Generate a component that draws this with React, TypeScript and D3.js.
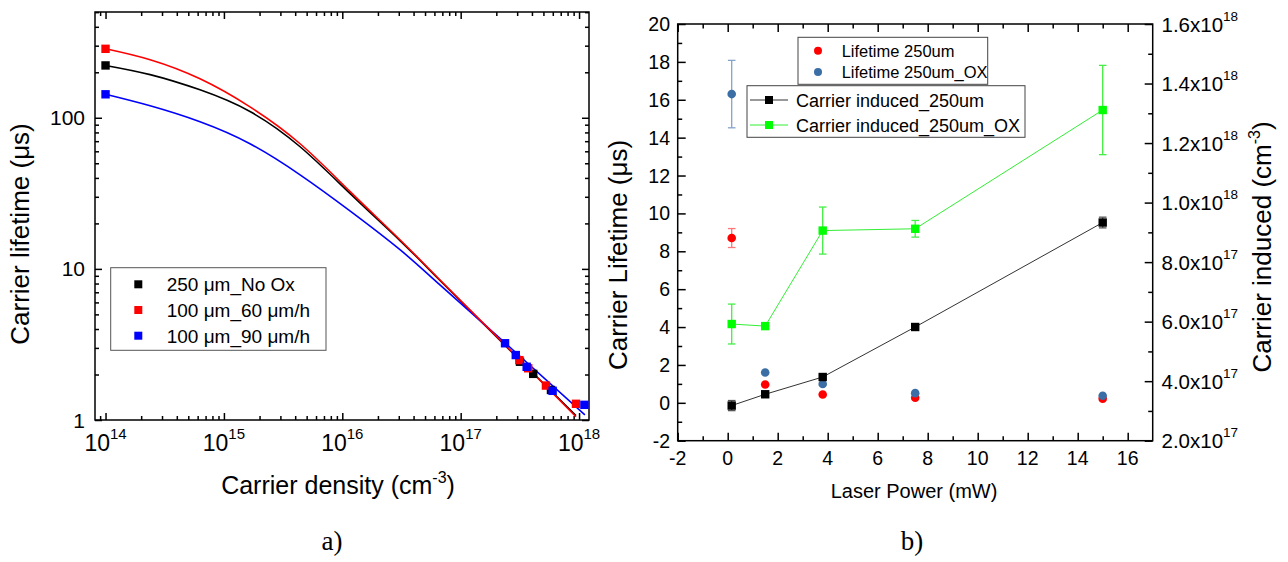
import React, { useRef, useEffect } from 'react';
import * as d3 from 'd3';

// ---------- panel a) : carrier lifetime vs carrier density ----------
// fitted curves (density in cm^-3, lifetime in µs)
const fitDensity = [1e14, 2.38e14, 6.28e14, 1.66e15, 4.4e15, 1.16e16, 3.07e16, 6.43e16, 2.15e17, 9.42e17];
const fitNoOx = [222, 193, 153, 110, 64.3, 31.6, 15.4, 8.65, 3.36, 1.07];
const fit60 = [286, 242, 181, 118, 67.3, 32.6, 15.6, 8.71, 3.39, 1.05];
const fitDensity90 = [1e14, 2.38e14, 6.28e14, 1.66e15, 4.4e15, 1.16e16, 3.07e16, 6.68e16, 2.37e17, 1.12e18];
const fit90 = [143, 120, 94.1, 67.3, 41.9, 24.2, 13.4, 7.83, 3.24, 1.08];

// measured points
const noOxDensity = [1e14, 3.17e17, 4.1e17, 5.79e17];
const noOxLifetime = [222, 2.43, 2.02, 1.58];
const um60Density = [1e14, 3.13e17, 3.72e17, 5.25e17, 9.42e17];
const um60Lifetime = [286, 2.49, 2.2, 1.69, 1.28];
const um90Density = [1e14, 2.37e17, 2.92e17, 3.61e17, 5.98e17, 1.11e18];
const um90Lifetime = [143, 3.22, 2.69, 2.25, 1.56, 1.26];

const legendA = ['250 μm_No Ox', '100 μm_60 μm/h', '100 μm_90 μm/h'];

// ---------- panel b) : lifetime / carriers vs laser power ----------
const laserPower = [0.16, 1.5, 3.8, 7.5, 15];
const lifetime250 = [8.7, 0.97, 0.44, 0.27, 0.22];
const lifetime250Err = [0.5, 0, 0, 0, 0];
const lifetimeOx = [16.3, 1.6, 0.99, 0.51, 0.37];
const lifetimeOxErr = [1.78, 0, 0, 0, 0];
const carrier250 = [3.18e17, 3.56e17, 4.14e17, 5.82e17, 9.33e17];
const carrier250Err = [0.17e17, 0.05e17, 0.06e17, 0.04e17, 0.18e17];
const carrierOx = [5.92e17, 5.85e17, 9.06e17, 9.12e17, 1.311e18];
const carrierOxErr = [0.67e17, 0.08e17, 0.79e17, 0.28e17, 1.5e17];

const xTicksB = [-2, 0, 2, 4, 6, 8, 10, 12, 14, 16];
const yTicksB = [-2, 0, 2, 4, 6, 8, 10, 12, 14, 16, 18, 20];
const y2TicksB = [2e17, 4e17, 6e17, 8e17, 1e18, 1.2e18, 1.4e18, 1.6e18];

const font = 'Liberation Sans, Arial, sans-serif';

function App() {
  const svgRef = useRef<SVGSVGElement>(null);

  useEffect(() => {
    const svg = d3.select(svgRef.current);
    svg.selectAll('*').remove();

    // draws inward ticks with d3 axes, hides domain + labels
    const tickAxis = (g: any, axis: any, tr: string) => {
      const a = g.append('g').attr('transform', tr).call(axis);
      a.select('.domain').remove();
      a.selectAll('text').remove();
      a.selectAll('line').attr('stroke', '#000').attr('stroke-width', 1.5);
    };

    // ================= panel a =================
    const A = { l: 95, r: 589, t: 12, b: 420 };
    const xL = d3.scaleLog().domain([10 ** 13.911, 10 ** 18.084]).range([A.l, A.r]);
    const yL = d3.scaleLog().domain([1, 10 ** 2.7]).range([A.b, A.t]);
    const ga = svg.append('g');

    const isDecade = (v: number) => Math.abs(Math.log10(v) - Math.round(Math.log10(v))) < 1e-6;
    const xAll = xL.ticks();
    const yAll = yL.ticks();
    const xMaj = xAll.filter(isDecade), xMin = xAll.filter(v => !isDecade(v));
    const yMaj = yAll.filter(isDecade), yMin = yAll.filter(v => !isDecade(v));

    tickAxis(ga, d3.axisBottom(xL).tickValues(xMaj).tickSize(-7), `translate(0,${A.b})`);
    tickAxis(ga, d3.axisBottom(xL).tickValues(xMin).tickSize(-4), `translate(0,${A.b})`);
    tickAxis(ga, d3.axisTop(xL).tickValues(xMaj).tickSize(-7), `translate(0,${A.t})`);
    tickAxis(ga, d3.axisTop(xL).tickValues(xMin).tickSize(-4), `translate(0,${A.t})`);
    tickAxis(ga, d3.axisLeft(yL).tickValues(yMaj).tickSize(-7), `translate(${A.l},0)`);
    tickAxis(ga, d3.axisLeft(yL).tickValues(yMin).tickSize(-4), `translate(${A.l},0)`);
    tickAxis(ga, d3.axisRight(yL).tickValues(yMaj).tickSize(-7), `translate(${A.r},0)`);
    tickAxis(ga, d3.axisRight(yL).tickValues(yMin).tickSize(-4), `translate(${A.r},0)`);

    ga.append('rect').attr('x', A.l).attr('y', A.t).attr('width', A.r - A.l).attr('height', A.b - A.t)
      .attr('fill', 'none').attr('stroke', '#000').attr('stroke-width', 1.5);

    // tick labels
    xMaj.forEach(v => {
      const t = ga.append('text').attr('x', xL(v)).attr('y', 451).attr('text-anchor', 'middle')
        .attr('font-family', font).attr('font-size', 23);
      t.append('tspan').text('10');
      t.append('tspan').attr('font-size', 15).attr('dy', -12).text(String(Math.round(Math.log10(v))));
    });
    yMaj.forEach(v => {
      ga.append('text').attr('x', 85).attr('y', yL(v) + 7.5).attr('text-anchor', 'end')
        .attr('font-family', font).attr('font-size', 21).text(String(v));
    });

    // curves (smooth spline through the read points)
    const lineA = (xs: number[], ys: number[], color: string) => {
      const line = d3.line<number>().x((d, i) => xL(xs[i])).y(d => yL(d)).curve(d3.curveNatural);
      ga.append('path').attr('d', line(ys)).attr('fill', 'none').attr('stroke', color).attr('stroke-width', 1.6);
    };
    lineA(fitDensity, fitNoOx, '#000');
    lineA(fitDensity90, fit90, '#0000ff');
    lineA(fitDensity, fit60, '#ff0000');

    const squaresA = (xs: number[], ys: number[], color: string) => {
      ga.append('g').selectAll('rect').data(ys).join('rect')
        .attr('x', (d, i) => xL(xs[i]) - 4.2).attr('y', d => yL(d) - 4.2)
        .attr('width', 8.4).attr('height', 8.4).attr('fill', color);
    };
    squaresA(noOxDensity, noOxLifetime, '#000');
    squaresA(um60Density, um60Lifetime, '#ff0000');
    squaresA(um90Density, um90Lifetime, '#0000ff');

    // legend a
    const colorsA = ['#000', '#ff0000', '#0000ff'];
    ga.append('rect').attr('x', 110.7).attr('y', 267.7).attr('width', 215.3).attr('height', 82.6)
      .attr('fill', '#fff').attr('stroke', '#555').attr('stroke-width', 1);
    legendA.forEach((s, i) => {
      const cy = 284.3 + i * 25.7;
      ga.append('rect').attr('x', 134.3).attr('y', cy - 4).attr('width', 8).attr('height', 8).attr('fill', colorsA[i]);
      ga.append('text').attr('x', 166.7).attr('y', cy + 7).attr('font-family', font).attr('font-size', 19).text(s);
    });

    // titles a
    ga.append('text').attr('transform', 'translate(29,234) rotate(-90)').attr('text-anchor', 'middle')
      .attr('font-family', font).attr('font-size', 26).text('Carrier lifetime (μs)');
    const tx = ga.append('text').attr('x', 338).attr('y', 494).attr('text-anchor', 'middle')
      .attr('font-family', font).attr('font-size', 25);
    tx.append('tspan').text('Carrier density (cm');
    tx.append('tspan').attr('font-size', 16).attr('dy', -11).text('-3');
    tx.append('tspan').attr('dy', 11).text(')');
    ga.append('text').attr('x', 332).attr('y', 550).attr('text-anchor', 'middle')
      .attr('font-family', 'Liberation Serif, Times New Roman, serif').attr('font-size', 27).text('a)');

    // ================= panel b =================
    const B = { l: 677.7, r: 1152.7, t: 24, b: 440.7 };
    const xR = d3.scaleLinear().domain([-2, 17]).range([B.l, B.r]);
    const yR = d3.scaleLinear().domain([-2, 20]).range([B.b, B.t]);
    const yR2 = d3.scaleLinear().domain([2e17, 1.6e18]).range([B.b, B.t]);
    const gb = svg.append('g');

    const xMinB = d3.range(-1, 17, 2);
    const yMinB = d3.range(-1, 20, 2);
    const y2MinB = d3.range(3e17, 1.6e18, 2e17);
    tickAxis(gb, d3.axisBottom(xR).tickValues(xTicksB).tickSize(-8), `translate(0,${B.b})`);
    tickAxis(gb, d3.axisBottom(xR).tickValues(xMinB).tickSize(-4.5), `translate(0,${B.b})`);
    tickAxis(gb, d3.axisTop(xR).tickValues(xTicksB).tickSize(-8), `translate(0,${B.t})`);
    tickAxis(gb, d3.axisTop(xR).tickValues(xMinB).tickSize(-4.5), `translate(0,${B.t})`);
    tickAxis(gb, d3.axisLeft(yR).tickValues(yTicksB).tickSize(-8), `translate(${B.l},0)`);
    tickAxis(gb, d3.axisLeft(yR).tickValues(yMinB).tickSize(-4.5), `translate(${B.l},0)`);
    tickAxis(gb, d3.axisRight(yR2).tickValues(y2TicksB).tickSize(-8), `translate(${B.r},0)`);
    tickAxis(gb, d3.axisRight(yR2).tickValues(y2MinB).tickSize(-4.5), `translate(${B.r},0)`);

    gb.append('rect').attr('x', B.l).attr('y', B.t).attr('width', B.r - B.l).attr('height', B.b - B.t)
      .attr('fill', 'none').attr('stroke', '#000').attr('stroke-width', 1.5);

    xTicksB.forEach(v => {
      gb.append('text').attr('x', xR(v)).attr('y', 465).attr('text-anchor', 'middle')
        .attr('font-family', font).attr('font-size', 19.5).text(String(v));
    });
    yTicksB.forEach(v => {
      gb.append('text').attr('x', 670).attr('y', yR(v) + 7).attr('text-anchor', 'end')
        .attr('font-family', font).attr('font-size', 19.5).text(String(v));
    });
    y2TicksB.forEach(v => {
      const e = Math.floor(Math.log10(v));
      const m = v / 10 ** e;
      const t = gb.append('text').attr('x', 1161.5).attr('y', yR2(v) + 7.5)
        .attr('font-family', font).attr('font-size', 20.5);
      t.append('tspan').text(`${m.toFixed(1)}x10`);
      t.append('tspan').attr('font-size', 13.5).attr('dy', -11).text(String(e));
    });

    const errBars = (vals: number[], errs: number[], scale: any, color: string) => {
      vals.forEach((v, i) => {
        if (!errs[i]) return;
        const x = xR(laserPower[i]);
        const y0 = scale(v - errs[i]), y1 = scale(v + errs[i]);
        gb.append('line').attr('x1', x).attr('x2', x).attr('y1', y0).attr('y2', y1).attr('stroke', color).attr('stroke-width', 1.3);
        [y0, y1].forEach(y => gb.append('line').attr('x1', x - 3.8).attr('x2', x + 3.8).attr('y1', y).attr('y2', y)
          .attr('stroke', color).attr('stroke-width', 1.3));
      });
    };
    const dots = (vals: number[], color: string) => {
      gb.append('g').selectAll('circle').data(vals).join('circle')
        .attr('cx', (d, i) => xR(laserPower[i])).attr('cy', d => yR(d)).attr('r', 4.3).attr('fill', color);
    };
    errBars(lifetime250, lifetime250Err, yR, '#ff7777');
    errBars(lifetimeOx, lifetimeOxErr, yR, '#86a3c9');
    dots(lifetime250, '#ff0000');
    dots(lifetimeOx, '#3a6ea5');

    const lineB = d3.line<number>().x((d, i) => xR(laserPower[i])).y(d => yR2(d));
    gb.append('path').attr('d', lineB(carrier250)).attr('fill', 'none').attr('stroke', '#333').attr('stroke-width', 1);
    gb.append('path').attr('d', lineB(carrierOx)).attr('fill', 'none').attr('stroke', '#33ee33').attr('stroke-width', 1);
    errBars(carrier250, carrier250Err, yR2, '#555');
    errBars(carrierOx, carrierOxErr, yR2, '#44ee44');
    const squares = (vals: number[], color: string) => {
      gb.append('g').selectAll('rect').data(vals).join('rect')
        .attr('x', (d, i) => xR(laserPower[i]) - 4.2).attr('y', d => yR2(d) - 4.2)
        .attr('width', 8.4).attr('height', 8.4).attr('fill', color);
    };
    squares(carrier250, '#000');
    squares(carrierOx, '#00ff00');

    // legends b
    gb.append('rect').attr('x', 798).attr('y', 37.3).attr('width', 189.7).attr('height', 47)
      .attr('fill', '#fff').attr('stroke', '#444').attr('stroke-width', 1);
    [['Lifetime 250um', '#ff0000'], ['Lifetime 250um_OX', '#3a6ea5']].forEach(([s, c], i) => {
      const cy = 50.7 + i * 21.3;
      gb.append('circle').attr('cx', 818).attr('cy', cy).attr('r', 4).attr('fill', c);
      gb.append('text').attr('x', 841.7).attr('y', cy + 6).attr('font-family', font).attr('font-size', 16.5).text(s);
    });
    gb.append('rect').attr('x', 747).attr('y', 85.7).attr('width', 278).attr('height', 51.6)
      .attr('fill', '#fff').attr('stroke', '#444').attr('stroke-width', 1);
    [['Carrier induced_250um', '#333', '#000'], ['Carrier induced_250um_OX', '#33ee33', '#00ff00']].forEach(([s, lc, mc], i) => {
      const cy = 100 + i * 25;
      gb.append('line').attr('x1', 750).attr('x2', 788).attr('y1', cy).attr('y2', cy).attr('stroke', lc).attr('stroke-width', 1);
      gb.append('rect').attr('x', 765).attr('y', cy - 4).attr('width', 8).attr('height', 8).attr('fill', mc);
      gb.append('text').attr('x', 796).attr('y', cy + 6.5).attr('font-family', font).attr('font-size', 18).text(s);
    });

    // titles b
    gb.append('text').attr('transform', 'translate(627,255) rotate(-90)').attr('text-anchor', 'middle')
      .attr('font-family', font).attr('font-size', 26).text('Carrier Lifetime (μs)');
    const t2 = gb.append('text').attr('transform', 'translate(1271,247) rotate(-90)').attr('text-anchor', 'middle')
      .attr('font-family', font).attr('font-size', 26);
    t2.append('tspan').text('Carrier induced (cm');
    t2.append('tspan').attr('font-size', 16).attr('dy', -11).text('-3');
    t2.append('tspan').attr('dy', 11).text(')');
    gb.append('text').attr('x', 914).attr('y', 498).attr('text-anchor', 'middle')
      .attr('font-family', font).attr('font-size', 20).text('Laser Power (mW)');
    gb.append('text').attr('x', 912).attr('y', 550).attr('text-anchor', 'middle')
      .attr('font-family', 'Liberation Serif, Times New Roman, serif').attr('font-size', 27).text('b)');
  }, []);

  return (
    <svg ref={svgRef} width={1288} height={562}
      style={{ position: 'absolute', left: 0, top: 0, background: '#fff' }} />
  );
}

export default App;
